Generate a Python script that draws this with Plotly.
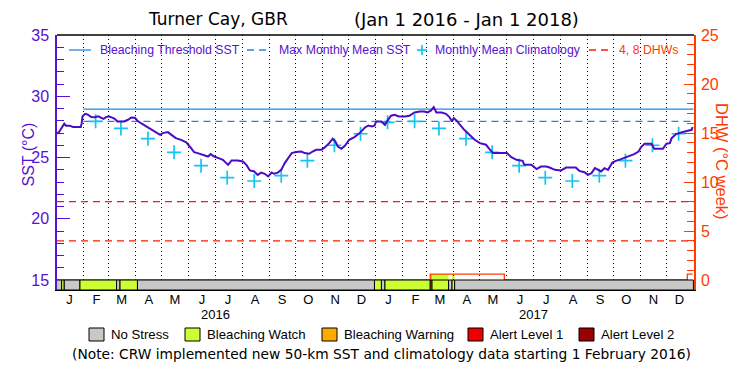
import plotly.graph_objects as go

# ---------------- data ----------------
sst_dates = [
    "2016-01-01", "2016-01-04", "2016-01-06", "2016-01-10", "2016-01-12", "2016-01-16", "2016-01-20",
    "2016-01-29", "2016-01-30", "2016-01-31", "2016-02-03", "2016-02-06", "2016-02-10", "2016-02-14",
    "2016-02-18", "2016-02-21", "2016-02-24", "2016-02-27", "2016-03-01", "2016-03-05", "2016-03-08",
    "2016-03-11", "2016-03-19", "2016-03-23", "2016-03-27", "2016-03-31", "2016-04-03", "2016-04-07",
    "2016-04-13", "2016-04-19", "2016-04-25", "2016-04-29", "2016-05-02", "2016-05-08", "2016-05-12",
    "2016-05-17", "2016-05-23", "2016-05-29", "2016-06-02", "2016-06-07", "2016-06-11", "2016-06-17",
    "2016-06-23", "2016-06-26", "2016-06-30", "2016-07-05", "2016-07-10", "2016-07-16", "2016-07-20",
    "2016-07-27", "2016-08-02", "2016-08-06", "2016-08-10", "2016-08-15", "2016-08-19", "2016-08-23",
    "2016-08-27", "2016-08-31", "2016-09-04", "2016-09-07", "2016-09-11", "2016-09-15", "2016-09-19",
    "2016-09-23", "2016-09-27", "2016-10-02", "2016-10-08", "2016-10-12", "2016-10-17", "2016-10-21",
    "2016-10-25", "2016-10-31", "2016-11-04", "2016-11-09", "2016-11-13", "2016-11-16", "2016-11-19",
    "2016-11-23", "2016-11-27", "2016-12-02", "2016-12-08", "2016-12-14", "2016-12-20", "2016-12-24",
    "2016-12-28", "2016-12-31",
    "2017-01-02", "2017-01-08", "2017-01-12", "2017-01-15", "2017-01-19", "2017-01-23", "2017-01-28",
    "2017-02-04", "2017-02-09", "2017-02-15", "2017-02-21", "2017-02-26", "2017-03-02", "2017-03-06",
    "2017-03-09", "2017-03-12", "2017-03-18", "2017-03-23", "2017-03-27", "2017-03-30", "2017-04-01",
    "2017-04-04", "2017-04-08", "2017-04-13", "2017-04-19", "2017-04-25", "2017-05-01", "2017-05-08",
    "2017-05-12", "2017-05-16", "2017-06-01", "2017-06-06", "2017-06-12", "2017-06-19", "2017-06-21",
    "2017-06-29", "2017-07-05", "2017-07-08", "2017-07-10", "2017-07-16", "2017-07-20", "2017-07-26",
    "2017-08-02", "2017-08-08", "2017-08-19", "2017-08-23", "2017-08-29", "2017-09-02", "2017-09-06",
    "2017-09-10", "2017-09-13", "2017-09-17", "2017-09-21", "2017-09-25", "2017-09-30", "2017-10-04",
    "2017-10-10", "2017-10-18", "2017-10-25", "2017-10-30", "2017-11-02", "2017-11-06", "2017-11-14",
    "2017-11-17", "2017-11-27", "2017-12-01", "2017-12-05", "2017-12-07", "2017-12-12", "2017-12-20",
    "2017-12-26", "2017-12-30", "2017-12-31",
]
sst_values = [
    26.94, 27.08, 27.30, 27.76, 27.60, 27.60, 27.49,
    27.49, 27.80, 28.36, 28.57, 28.50, 28.30, 28.28,
    28.36, 28.25, 28.15, 28.30, 28.36, 28.25, 28.15,
    27.94, 27.94, 28.08, 28.27, 28.25, 28.00, 27.80,
    27.53, 27.26, 26.99, 26.85, 26.99, 27.07, 26.85,
    26.58, 26.44, 26.23, 25.90, 25.44, 25.36, 25.22,
    25.08, 25.28, 25.08, 24.95, 24.81, 24.40, 24.76,
    24.76, 24.67, 24.40, 23.94, 23.86, 23.58, 23.77,
    23.67, 23.45, 23.77, 23.67, 23.77, 23.99, 24.54,
    24.95, 25.36, 25.44, 25.49, 25.36, 25.30, 25.49,
    25.63, 25.63, 25.82, 26.17, 26.53, 26.31, 25.90,
    25.71, 25.96, 26.45, 26.67, 26.99, 27.45, 27.60,
    27.53, 27.60,
    27.94, 27.94, 27.67, 28.03, 28.41, 28.49, 28.35,
    28.35, 28.41, 28.68, 28.76, 28.76, 28.68, 28.84,
    29.12, 28.68, 28.68, 28.57, 28.30, 27.94, 28.22,
    28.03, 27.67, 27.26, 26.85, 26.45, 26.17, 26.04,
    25.69, 25.36, 25.36, 25.03, 24.81, 24.73, 24.40,
    24.40, 24.05, 24.18, 24.26, 24.26, 24.18, 23.99,
    23.94, 24.18, 24.18, 23.91, 23.80, 23.58, 23.72,
    24.13, 23.99, 23.86, 24.13, 23.99, 24.59, 24.73,
    24.87, 25.08, 25.28, 25.49, 25.85, 26.12, 26.12,
    25.71, 25.71, 26.12, 26.17, 26.58, 26.91, 27.08,
    27.21, 27.26, 27.49,
]

clim_dates = [
    "2016-02-15", "2016-03-15", "2016-04-15", "2016-05-15", "2016-06-15", "2016-07-15",
    "2016-08-15", "2016-09-15", "2016-10-15", "2016-11-15", "2016-12-15",
    "2017-01-15", "2017-02-15", "2017-03-15", "2017-04-15", "2017-05-15", "2017-06-15",
    "2017-07-15", "2017-08-15", "2017-09-15", "2017-10-15", "2017-11-15", "2017-12-15",
]
clim_values = [
    27.95, 27.37, 26.54, 25.42, 24.33, 23.35, 23.08, 23.52, 24.74, 26.00, 26.94,
    27.87, 27.95, 27.37, 26.54, 25.42, 24.33, 23.35, 23.08, 23.52, 24.74, 26.00, 26.94,
]

mmm_sst = 27.95
threshold_sst = 28.95
new_data_start = "2016-02-01"
period = ["2016-01-01", "2018-01-01"]

dhw_dates = ["2016-01-01", "2017-03-05", "2017-05-29", "2017-12-25", "2017-12-31"]
dhw_values = [0.0, 0.6, 0.0, 0.6, 0.6]
dhw_ref_levels = [4, 8]

stress_starts = ["2016-01-01", "2016-01-07", "2016-01-10", "2016-01-28", "2016-03-10", "2016-03-14",
                 "2016-04-03", "2016-12-31", "2017-01-08", "2017-01-12", "2017-03-05", "2017-03-07",
                 "2017-03-26", "2017-03-30", "2017-04-02"]
stress_levels = [0, 1, 0, 1, 0, 1, 0, 1, 0, 1, 2, 1, 0, 1, 0]
stress_names = ["No Stress", "Bleaching Watch", "Bleaching Warning", "Alert Level 1", "Alert Level 2"]

month_mids = ["2016-%02d-16" % m for m in range(1, 13)] + ["2017-%02d-16" % m for m in range(1, 13)]
month_letters = ["J", "F", "M", "A", "M", "J", "J", "A", "S", "O", "N", "D"] * 2
month_starts = ["2016-%02d-01" % m for m in range(2, 13)] + ["2017-%02d-01" % m for m in range(1, 13)]
year_labels = ["2016", "2017"]
year_centers = ["2016-07-02", "2017-07-02"]

# ---------------- style ----------------
PURPLE = "#5512d2"
LINE_PURPLE = "#4a0cc4"
ORANGE = "#ff3c00"
RED = "#ff1a00"
BLUE = "#1e88e6"
CYAN = "#14c4f4"
STRESS_COLORS = ["#c8c8c8", "#ccff33", "#ffaa00", "#ee0000", "#990000"]
FONT = "Liberation Sans, Arial, sans-serif"
WIDE = "DejaVu Sans, sans-serif"

W, H = 750, 375
L, R, T, B = 57, 56, 35, 85
PW, PH = W - L - R, H - T - B
BAR_PX = 10


def px_x(x):
    return (x - L) / PW


def px_y(y):
    return (H - B - y) / PH


sst_per_px = 20 / (PH - BAR_PX)
dhw_per_px = 25 / (PH - BAR_PX)

fig = go.Figure()

# threshold and MMM lines (from the new-data start)
fig.add_trace(go.Scatter(x=[new_data_start, period[1]], y=[threshold_sst, threshold_sst],
                         mode="lines", line=dict(color=BLUE, width=1.3), hoverinfo="skip"))
fig.add_trace(go.Scatter(x=[new_data_start, period[1]], y=[mmm_sst, mmm_sst],
                         mode="lines", line=dict(color=BLUE, width=1.3, dash="7px,5px"), hoverinfo="skip"))

# climatology
fig.add_trace(go.Scatter(x=clim_dates, y=clim_values, mode="markers",
                         marker=dict(symbol="cross-thin", size=10, line=dict(color=CYAN, width=1.7)),
                         hoverinfo="skip"))

# SST
fig.add_trace(go.Scatter(x=sst_dates, y=sst_values, mode="lines",
                         line=dict(color=LINE_PURPLE, width=2), hoverinfo="skip"))

# DHW
fig.add_trace(go.Scatter(x=dhw_dates, y=dhw_values, yaxis="y2", mode="lines",
                         line=dict(color=ORANGE, width=1.3, shape="hv"), hoverinfo="skip"))

shapes = []
# DHW reference lines
for lvl in dhw_ref_levels:
    shapes.append(dict(type="line", xref="paper", x0=0, x1=1, yref="y2", y0=lvl, y1=lvl,
                       line=dict(color=RED, width=1.3, dash="7px,5px"), layer="above"))

# stress bar
ends = stress_starts[1:] + [period[1]]
for s, e, lv in zip(stress_starts, ends, stress_levels):
    shapes.append(dict(type="rect", xref="x", x0=s, x1=e, yref="paper", y0=0, y1=BAR_PX / PH,
                       fillcolor=STRESS_COLORS[lv], line=dict(color="black", width=1), layer="above"))
    # fill under DHW with stress colour where DHW > 0
    if lv > 0:
        for i in range(len(dhw_dates) - 1):
            if dhw_values[i] > 0:
                a = max(s, dhw_dates[i])
                b = min(e, dhw_dates[i + 1])
                if a < b:
                    shapes.append(dict(type="rect", xref="x", x0=a, x1=b, yref="y2", y0=0,
                                       y1=dhw_values[i], fillcolor=STRESS_COLORS[lv],
                                       line=dict(width=0), layer="below"))

# top border
shapes.append(dict(type="line", xref="paper", x0=0, x1=1, yref="paper", y0=1, y1=1,
                   line=dict(color="black", width=1.5)))

annotations = []
# title (two parts, as spaced in the original)
annotations.append(dict(text="Turner Cay, GBR", xref="paper", yref="paper", x=px_x(218), y=px_y(19),
                        showarrow=False, xanchor="center", yanchor="middle",
                        font=dict(size=17, color="black", family=WIDE)))
annotations.append(dict(text="(Jan 1 2016 - Jan 1 2018)", xref="paper", yref="paper", x=px_x(466), y=px_y(19),
                        showarrow=False, xanchor="center", yanchor="middle",
                        font=dict(size=18, color="black", family=WIDE)))
# axis titles
annotations.append(dict(text="SST (°C)", xref="paper", yref="paper", x=px_x(17), y=px_y(155),
                        textangle=-90, showarrow=False, font=dict(size=16, color=PURPLE, family=FONT)))
annotations.append(dict(text="DHW (°C week)", xref="paper", yref="paper", x=px_x(733), y=px_y(161),
                        textangle=90, showarrow=False, font=dict(size=16.5, color=ORANGE, family=FONT)))
# year labels
for lab, xc in zip(year_labels, year_centers):
    annotations.append(dict(text=lab, xref="x", x=xc, yref="paper", y=px_y(314), showarrow=False,
                            xanchor="center", yanchor="middle", font=dict(size=13, color="black", family=FONT)))

# top legend
ly = px_y(50)
legend_items = [
    (69, 91, "solid", BLUE, 98, "Bleaching Threshold SST", PURPLE),
    (247, 270, "7px,5px", BLUE, 277, "Max Monthly Mean SST", PURPLE),
    (None, None, None, CYAN, 433, "Monthly Mean Climatology", PURPLE),
    (589, 612, "7px,5px", RED, 617, "4, 8 DHWs", ORANGE),
]
for x0, x1, dash, col, tx, txt, tcol in legend_items:
    if x0 is not None:
        shapes.append(dict(type="line", xref="paper", yref="paper", x0=px_x(x0), x1=px_x(x1), y0=ly, y1=ly,
                           line=dict(color=col, width=1.3, dash=dash)))
    else:
        shapes.append(dict(type="line", xref="paper", yref="paper", x0=px_x(417), x1=px_x(427), y0=ly, y1=ly,
                           line=dict(color=col, width=1.7)))
        shapes.append(dict(type="line", xref="paper", yref="paper", x0=px_x(422), x1=px_x(422),
                           y0=px_y(45), y1=px_y(55), line=dict(color=col, width=1.7)))
    annotations.append(dict(text=txt, xref="paper", yref="paper", x=px_x(tx), y=ly, showarrow=False,
                            xanchor="left", yanchor="middle", font=dict(size=12.3, color=tcol, family=FONT)))

# bottom legend
box_x = [89, 185, 322, 468, 579]
for bx, name, col in zip(box_x, stress_names, STRESS_COLORS):
    shapes.append(dict(type="rect", xref="paper", yref="paper", x0=px_x(bx), x1=px_x(bx + 15),
                       y0=px_y(341), y1=px_y(328), fillcolor=col, line=dict(color="black", width=1)))
    annotations.append(dict(text=name, xref="paper", yref="paper", x=px_x(bx + 20), y=px_y(334.5),
                            showarrow=False, xanchor="left", yanchor="middle",
                            font=dict(size=13.2, color="black", family=FONT)))
annotations.append(dict(text="(Note: CRW implemented new 50-km SST and climatology data starting 1 February 2016)",
                        xref="paper", yref="paper", x=px_x(381), y=px_y(354), showarrow=False,
                        xanchor="center", yanchor="middle", font=dict(size=13.8, color="black", family=WIDE)))

fig.update_layout(
    width=W, height=H, margin=dict(l=L, r=R, t=T, b=B, pad=0),
    paper_bgcolor="white", plot_bgcolor="white", showlegend=False,
    font=dict(family=FONT),
    shapes=shapes, annotations=annotations,
    xaxis=dict(type="date", range=["2016-01-01 16:00", "2018-01-01 16:00"],
               tickmode="array", tickvals=month_mids, ticktext=month_letters,
               tickfont=dict(size=13, color="black"), ticks="", showgrid=False, ticklabelstandoff=-3,
               showline=True, linecolor="black", linewidth=1, mirror=False, zeroline=False,
               minor=dict(tickmode="array", tickvals=month_starts, showgrid=True,
                          gridcolor="black", gridwidth=1, griddash="1px,3px", ticks="")),
    yaxis=dict(range=[15 - BAR_PX * sst_per_px, 35], tickmode="array", tickvals=[15, 20, 25, 30, 35],
               ticks="inside", ticklen=13, tickcolor=PURPLE, tickwidth=1.3, ticklabelstandoff=3,
               tickfont=dict(size=16, color=PURPLE), showgrid=False, zeroline=False,
               showline=True, linecolor=PURPLE, linewidth=1.5,
               minor=dict(tickmode="array", tickvals=list(range(15, 36)), ticks="inside", ticklen=7,
                          tickcolor=PURPLE, tickwidth=1.3)),
    yaxis2=dict(range=[-BAR_PX * dhw_per_px, 25], overlaying="y", side="right",
                tickmode="array", tickvals=[0, 5, 10, 15, 20, 25],
                ticks="inside", ticklen=10, tickcolor=ORANGE, tickwidth=1.3, ticklabelstandoff=2,
                tickfont=dict(size=16, color=ORANGE), showgrid=False, zeroline=False,
                showline=True, linecolor=ORANGE, linewidth=1.5,
                minor=dict(tickmode="array", tickvals=list(range(0, 26)), ticks="inside", ticklen=7,
                           tickcolor=ORANGE, tickwidth=1.3)),
)

fig.write_html("out.html", config={"displayModeBar": False},
               post_script="document.body.style.margin='0';")
